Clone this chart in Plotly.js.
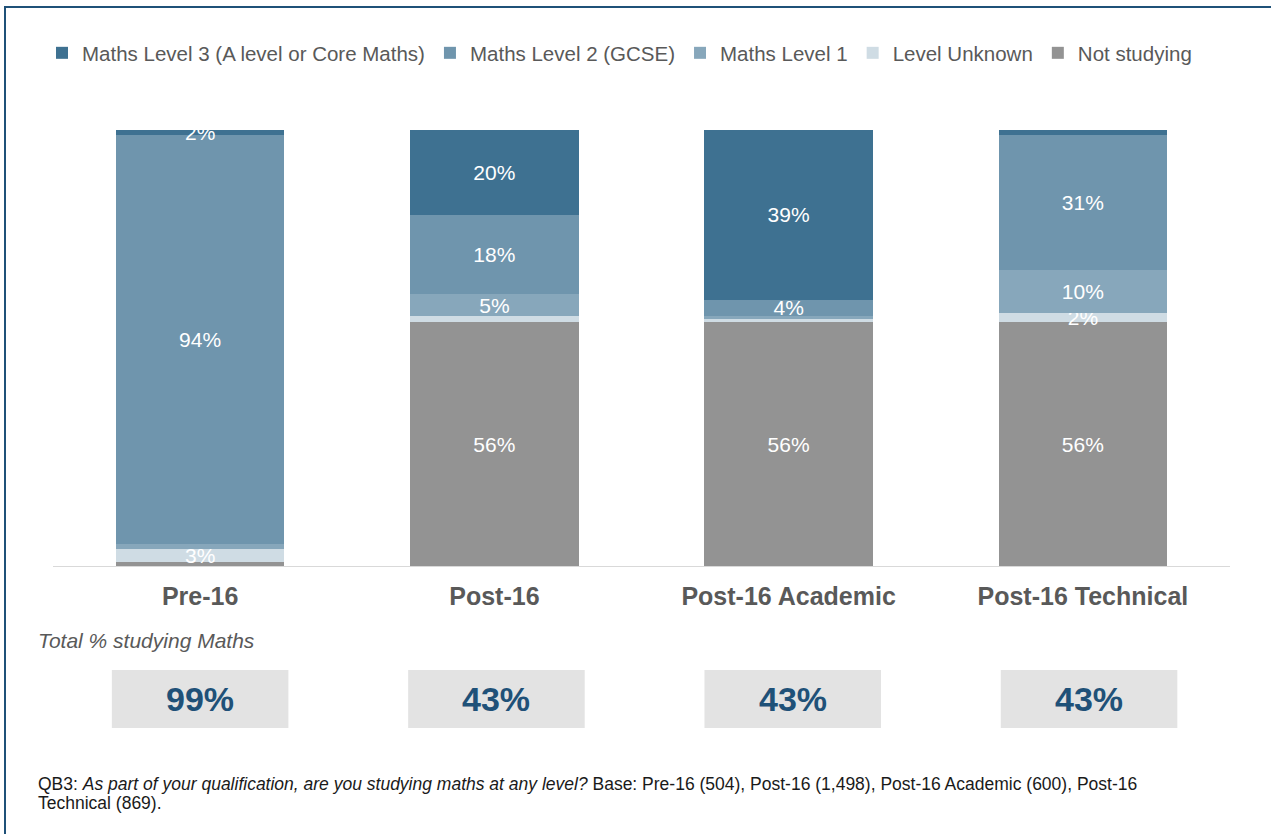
<!DOCTYPE html>
<html>
<head>
<meta charset="utf-8">
<script src="https://cdn.plot.ly/plotly-3.0.1.min.js"></script>
<style>html,body{margin:0;padding:0;background:#fff;}#chart{width:1271px;height:834px;}</style>
</head>
<body>
<div id="chart"></div>
<script>
const categories = ['Pre-16', 'Post-16', 'Post-16 Academic', 'Post-16 Technical'];

const level3 = [1.1, 19.5, 39.0, 1.1];
const level2 = [93.9, 18.1, 3.7, 31.0];
const level1 = [1.1, 5.0, 0.7, 9.9];
const levelUnknown = [3.0, 1.4, 0.8, 2.1];
const notStudying = [0.9, 55.9, 55.9, 55.9];

const level3Labels = ['2%', '20%', '39%', ''];
const level2Labels = ['94%', '18%', '4%', '31%'];
const level1Labels = ['', '5%', '', '10%'];
const unknownLabels = ['3%', '', '', '2%'];
const notStudyingLabels = ['', '56%', '56%', '56%'];

const totalStudying = ['99%', '43%', '43%', '43%'];

const FONT = 'Liberation Sans, Arial, sans-serif';
const GREY_TEXT = '#595959';

function bar(name, values, labels, color) {
  return {
    type: 'bar', name: name, x: categories, y: values,
    text: labels, textposition: 'inside', insidetextanchor: 'middle',
    constraintext: 'none', textangle: 0,
    textfont: {family: FONT, size: 21, color: '#ffffff'},
    insidetextfont: {family: FONT, size: 21, color: '#ffffff'},
    marker: {color: color, line: {width: 0}},
    hoverinfo: 'skip'
  };
}

const traces = [
  bar('Not studying', notStudying, notStudyingLabels, '#939393'),
  bar('Level Unknown', levelUnknown, unknownLabels, '#cfdce4'),
  bar('Maths Level 1', level1, level1Labels, '#87a7bb'),
  bar('Maths Level 2 (GCSE)', level2, level2Labels, '#6f95ad'),
  bar('Maths Level 3 (A level or Core Maths)', level3, level3Labels, '#3e7191')
];

const PL = 53, PR = 1230, PT = 130, PB = 566;
const px = p => (p - PL) / (PR - PL);
const py = p => (PB - p) / (PB - PT);

const shapes = [];
const annotations = [];

categories.forEach((c, i) => {
  shapes.push({type: 'rect', xref: 'x', yref: 'paper', x0: i - 0.3 + i * 0.007, x1: i + 0.3 + i * 0.007,
    y0: py(728), y1: py(670), fillcolor: '#e3e3e3', line: {width: 0}, layer: 'below'});
  annotations.push({xref: 'x', yref: 'paper', x: i + i * 0.007, y: py(699), text: '<b>' + totalStudying[i] + '</b>',
    showarrow: false, xanchor: 'center', yanchor: 'middle',
    font: {family: FONT, size: 34, color: '#1f5178'}});
});

shapes.push({type: 'rect', xref: 'paper', yref: 'paper', x0: px(5), x1: px(1300), y0: py(860), y1: py(7),
  line: {color: '#1f5178', width: 2}, fillcolor: 'rgba(0,0,0,0)', layer: 'above'});

annotations.push({xref: 'paper', yref: 'paper', x: px(36), y: py(640),
  text: '<i>Total % studying Maths</i>', showarrow: false, xanchor: 'left', yanchor: 'middle',
  font: {family: FONT, size: 21, color: GREY_TEXT}});

annotations.push({xref: 'paper', yref: 'paper', x: px(36), y: py(784), align: 'left',
  text: 'QB3: <i>As part of your qualification, are you studying maths at any level?</i> Base: Pre-16 (504), Post-16 (1,498), Post-16 Academic (600), Post-16',
  showarrow: false, xanchor: 'left', yanchor: 'middle',
  font: {family: FONT, size: 17.5, color: '#1a1a1a'}});
annotations.push({xref: 'paper', yref: 'paper', x: px(36), y: py(803), align: 'left',
  text: 'Technical (869).',
  showarrow: false, xanchor: 'left', yanchor: 'middle',
  font: {family: FONT, size: 17.5, color: '#1a1a1a'}});

const layout = {
  width: 1271, height: 834,
  margin: {l: PL, r: 1271 - PR, t: PT, b: 834 - PB, pad: 0},
  paper_bgcolor: '#ffffff', plot_bgcolor: '#ffffff',
  barmode: 'stack', bargap: 0.428,
  font: {family: FONT, color: GREY_TEXT},
  showlegend: true,
  legend: {orientation: 'h', traceorder: 'reversed', x: px(42), xanchor: 'left', y: py(53), yanchor: 'middle',
    font: {family: FONT, size: 20.5, color: GREY_TEXT}, itemwidth: 30, bgcolor: 'rgba(0,0,0,0)'},
  xaxis: {type: 'category', showgrid: false, zeroline: false, showline: true, linecolor: '#d9d9d9', linewidth: 1,
    ticks: '', ticklabelstandoff: 8, tickfont: {family: FONT, size: 25, color: GREY_TEXT, weight: 'bold'}, fixedrange: true},
  yaxis: {range: [0, 100], visible: false, showgrid: false, zeroline: false, fixedrange: true},
  shapes: shapes,
  annotations: annotations
};

Plotly.newPlot('chart', traces, layout, {displayModeBar: false, staticPlot: true});
</script>
</body>
</html>
